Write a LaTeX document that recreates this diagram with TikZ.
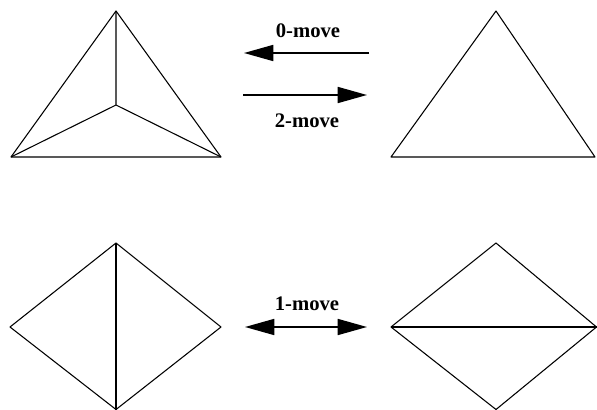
\documentclass[tikz,border=0pt]{standalone}
\usepackage{fontspec}
\setmainfont{Liberation Serif}
\usetikzlibrary{arrows.meta}
\tikzset{
  edge/.style={line width=0.8pt, line join=round},
  head/.tip={Triangle[length=22pt,width=12pt]},
  move/.style={line width=1.3pt, -head},
  movelabel/.style={font=\fontsize{15.5}{17}\selectfont\bfseries, inner sep=0pt}
}
\begin{document}
\begin{tikzpicture}[x=0.75pt,y=-0.75pt]
\useasboundingbox (0,0) rectangle (597,410);
% top-left triangle with centre vertex
\coordinate (a1) at (116,11);
\coordinate (a2) at (11,157);
\coordinate (a3) at (221,157);
\coordinate (a0) at (116,105);
\draw[edge] (a1) -- (a2) -- (a3) -- cycle;
\draw[edge] (a0) -- (a1) (a0) -- (a2) (a0) -- (a3);
% top-right triangle
\coordinate (b1) at (496,11);
\coordinate (b2) at (391,157);
\coordinate (b3) at (595,157);
\draw[edge] (b1) -- (b2) -- (b3) -- cycle;
% bottom-left diamond
\coordinate (c1) at (116,243);
\coordinate (c2) at (10,327);
\coordinate (c3) at (116,409.5);
\coordinate (c4) at (221,327);
\draw[edge] (c1) -- (c2) -- (c3) -- (c4) -- cycle;
\draw[edge] (c1) -- (c3);
% bottom-right diamond
\coordinate (d1) at (496,243);
\coordinate (d2) at (391,327);
\coordinate (d3) at (496,409.5);
\coordinate (d4) at (596.5,327);
\draw[edge] (d1) -- (d2) -- (d3) -- (d4) -- cycle;
\draw[edge] (d2) -- (d4);
% moves
\coordinate (m0s) at (369,53);
\coordinate (m0e) at (244,53);
\coordinate (m2s) at (243,95);
\coordinate (m2e) at (367,95);
\coordinate (m1s) at (245,327);
\coordinate (m1e) at (367,327);
\draw[move] (m0s) -- (m0e);
\draw[move] (m2s) -- (m2e);
\draw[move, head-head] (m1s) -- (m1e);
\node[movelabel] (l0) at (308,31) {0-move};
\node[movelabel] (l2) at (307,121) {2-move};
\node[movelabel] (l1) at (307,304) {1-move};
\end{tikzpicture}
\end{document}
